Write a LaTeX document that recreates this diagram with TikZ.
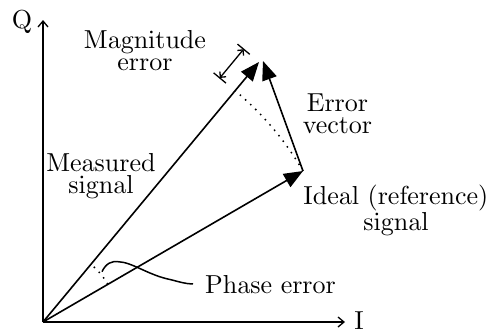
\documentclass[tikz,border=0pt]{standalone}
\usetikzlibrary{arrows.meta,calc}
\font\bigrm=cmr10 at 26pt
\begin{document}
\begin{tikzpicture}[x=1pt,y=1pt,
  lbl/.style={inner sep=0pt,font={\bigrm\baselineskip=22pt\relax}},
  mlbl/.style={lbl,align=center},
  axis/.style={line width=1.6pt,-{Straight Barb[length=6pt,width=10pt,line width=1.3pt]}},
  vec/.style={line width=1.6pt,-{Triangle[length=19pt,width=15pt]}},
  dimline/.style={line width=1.3pt,{Straight Barb[length=4pt,width=8pt]}-{Straight Barb[length=4pt,width=8pt]}},
  tickline/.style={line width=1.3pt},
  bigdots/.style={line width=1.5pt,dash pattern=on 1.5pt off 5.5pt},
  smalldots/.style={line width=1.5pt,dash pattern=on 1.5pt off 5.5pt},
  pointer/.style={line width=1.5pt}]
\useasboundingbox (0,0) rectangle (493,333);
\coordinate (O) at (43,11);
\coordinate (Qt) at (43,313);
\coordinate (It) at (345,11);
\coordinate (M) at (259,271);
\coordinate (E) at (263,272);
\coordinate (R) at (303,162);
\coordinate (A) at ($(O)+(50.27:300.7pt)$);
% axes
\draw[axis] (O) -- (Qt);
\draw[axis] (O) -- (It);
% vectors
\draw[vec] (O) -- (M);
\draw[vec] (O) -- (R);
\draw[vec] (R) -- (E);
% magnitude arc
\draw[bigdots] (R) arc[start angle=30.14,end angle=50.27,radius=300.7pt];
% magnitude dimension
\draw[tickline] ($(M)!12pt!-90:(O)$) -- ($(M)!28pt!-90:(O)$);
\draw[tickline] ($(A)!12pt!-90:(O)$) -- ($(A)!28pt!-90:(O)$);
\draw[dimline] ($(A)!20pt!-90:(O)$) -- ($(M)!20pt!-90:(O)$);
% phase arc
\draw[smalldots] ($(O)+(30.14:75pt)$) arc[start angle=30.14,end angle=50.27,radius=75pt];
% labels
\node[lbl,anchor=base] (q) at (22,305) {Q};
\node[lbl,anchor=base] (i) at (359,4) {I};
\node[mlbl,anchor=base] (mag) at (145,263) {Magnitude\\error};
\node[mlbl,anchor=base] (ev) at (337.5,200) {Error\\vector};
\node[mlbl,anchor=base] (ms) at (101,140) {Measured\\signal};
\node[mlbl,anchor=base] (is) at (396,103) {Ideal (reference)\\signal};
\node[lbl,anchor=base west] (ph) at (205,40) {Phase error};
\draw[pointer] (102,61.3) .. controls (106,70) and (112,72) .. (118,71.3)
  .. controls (132,71) and (148,58) .. (170,53.5)
  .. controls (180,51) and (186,49) .. ([xshift=-12pt]ph.west);
\end{tikzpicture}
\end{document}
